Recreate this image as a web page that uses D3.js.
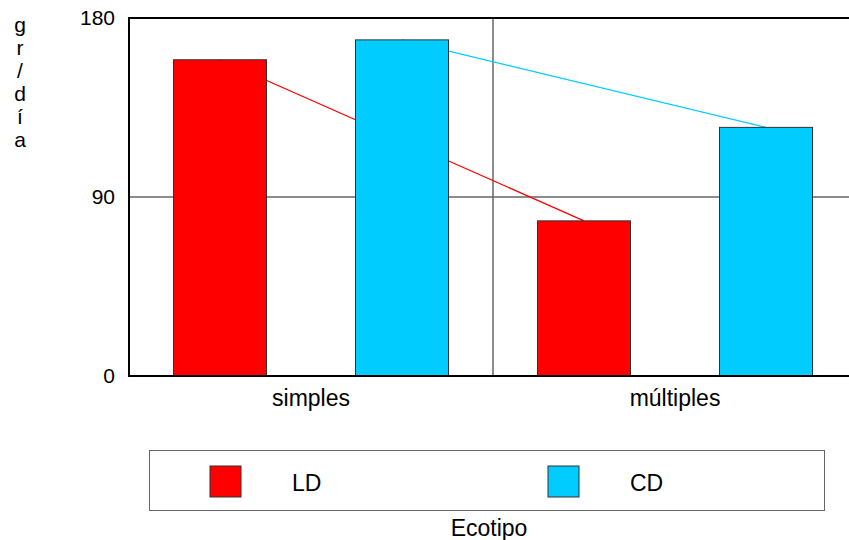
<!DOCTYPE html>
<html>
<head>
<meta charset="utf-8">
<script src="https://cdn.jsdelivr.net/npm/d3@7"></script>
<style>
  body { margin: 0; background: #fff; }
  text { font-family: "Liberation Sans", Arial, sans-serif; fill: #000; }
</style>
</head>
<body>
<svg id="chart"></svg>
<script>
const WIDTH = 849;
const HEIGHT = 540;

const categories = ["simples", "múltiples"];
const seriesNames = ["LD", "CD"];
const seriesColors = ["#ff0000", "#00ccff"];
const valuesLD = [159, 78];
const valuesCD = [169, 125];
const yTicks = [0, 90, 180];
const yLabel = ["g", "r", "/", "d", "í", "a"];
const xTitle = "Ecotipo";

const series = [valuesLD, valuesCD];

const svg = d3.select("#chart").attr("width", WIDTH).attr("height", HEIGHT);

const plotL = 129, plotT = 18, plotR = 857, plotB = 376;

const x = d3.scaleBand().domain(categories).range([plotL, plotR]).padding(0);
// each bar sits on a quarter of its category band
const xSub = d3.scalePoint().domain(seriesNames).range([0, x.bandwidth()]).padding(0.5);
const barW = 93;

const y = d3.scaleLinear().domain([0, 180]).range([plotB, plotT]);

// gridlines
svg.append("line")
  .attr("x1", plotL).attr("x2", plotR)
  .attr("y1", y(90)).attr("y2", y(90))
  .attr("stroke", "#666").attr("stroke-width", 1.5);
svg.append("line")
  .attr("x1", x("múltiples")).attr("x2", x("múltiples"))
  .attr("y1", plotT).attr("y2", plotB)
  .attr("stroke", "#666").attr("stroke-width", 1.5);

// connecting lines (behind bars)
series.forEach((vals, si) => {
  const line = d3.line()
    .x((d, i) => x(categories[i]) + xSub(seriesNames[si]))
    .y(d => y(d));
  svg.append("path").datum(vals)
    .attr("d", line)
    .attr("fill", "none")
    .attr("stroke", seriesColors[si])
    .attr("stroke-width", 1.2);
});

// bars
series.forEach((vals, si) => {
  svg.append("g").selectAll("rect").data(vals).enter()
    .append("rect")
    .attr("x", (d, i) => x(categories[i]) + xSub(seriesNames[si]) - barW / 2)
    .attr("y", d => y(d))
    .attr("width", barW)
    .attr("height", d => y(0) - y(d))
    .attr("fill", seriesColors[si])
    .attr("stroke", "#333").attr("stroke-width", 1);
});

// frame: left, top, bottom
svg.append("line").attr("x1", plotL).attr("x2", plotL).attr("y1", plotT - 1).attr("y2", plotB + 1)
  .attr("stroke", "#000").attr("stroke-width", 2);
svg.append("line").attr("x1", plotL).attr("x2", plotR).attr("y1", plotT).attr("y2", plotT)
  .attr("stroke", "#000").attr("stroke-width", 2);
svg.append("line").attr("x1", plotL).attr("x2", plotR).attr("y1", plotB).attr("y2", plotB)
  .attr("stroke", "#000").attr("stroke-width", 2);

// y axis labels
const yAxis = d3.axisLeft(y).tickValues(yTicks).tickSize(0).tickPadding(14);
const gy = svg.append("g").attr("transform", `translate(${plotL},0)`).call(yAxis);
gy.select(".domain").remove();
gy.selectAll("text").style("font-size", "21px").attr("font-family", null);

// x axis labels
const xAxis = d3.axisBottom(x).tickSize(0).tickPadding(14);
const gx = svg.append("g").attr("transform", `translate(0,${plotB})`).call(xAxis);
gx.select(".domain").remove();
gx.selectAll("text").style("font-size", "23px").attr("font-family", null);

// vertical stacked y label
svg.append("g").selectAll("text").data(yLabel).enter()
  .append("text")
  .attr("x", 20).attr("y", (d, i) => 25 + i * 23)
  .attr("dy", "0.35em")
  .attr("text-anchor", "middle")
  .style("font-size", "21px")
  .text(d => d);

// legend
const legend = svg.append("g");
legend.append("rect")
  .attr("x", 149.5).attr("y", 450.5).attr("width", 675).attr("height", 60)
  .attr("fill", "none").attr("stroke", "#666").attr("stroke-width", 1);
const legX = d3.scaleOrdinal().domain(seriesNames).range([210, 548]);
seriesNames.forEach((n, i) => {
  legend.append("rect")
    .attr("x", legX(n)).attr("y", 466).attr("width", 31).attr("height", 31)
    .attr("fill", seriesColors[i]).attr("stroke", "#333").attr("stroke-width", 1);
  legend.append("text")
    .attr("x", legX(n) + 82).attr("y", 483).attr("dy", "0.35em")
    .style("font-size", "23px")
    .text(n);
});

// x title
svg.append("text")
  .attr("x", 489).attr("y", 536)
  .attr("text-anchor", "middle")
  .style("font-size", "23px")
  .text(xTitle);
</script>
</body>
</html>
